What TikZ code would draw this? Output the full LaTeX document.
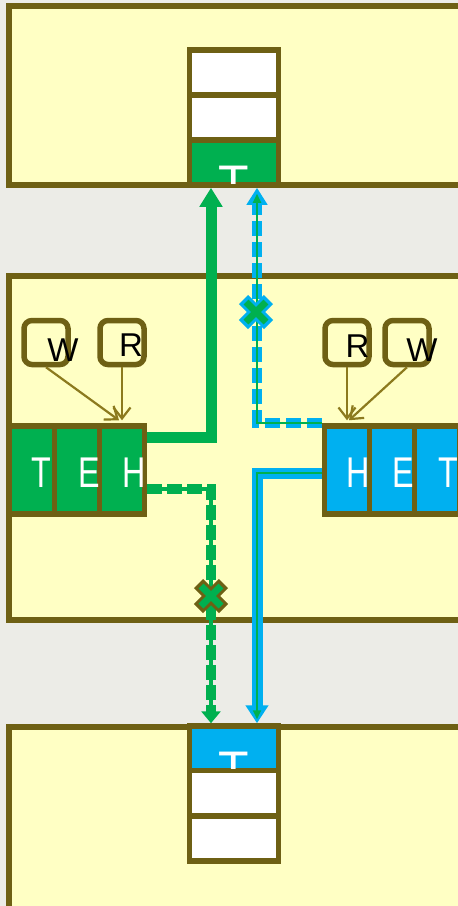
\documentclass[tikz,border=0pt]{standalone}
\usepackage{fontspec}
\setmainfont{Liberation Sans}
\usetikzlibrary{arrows.meta,calc}
\definecolor{olv}{HTML}{6E6014}
\definecolor{olva}{HTML}{8C7A1E}
\definecolor{pale}{HTML}{FFFFC4}
\definecolor{grn}{HTML}{00B050}
\definecolor{blu}{HTML}{00B0F0}
\definecolor{bgc}{HTML}{ECECE7}
\begin{document}
\begin{tikzpicture}[x=1pt,y=-1pt,
 panel/.style={draw=olv,fill=pale,line width=5.5pt},
 cellbox/.style={draw=olv,line width=5.5pt,minimum width=45pt,minimum height=88pt,inner sep=0pt},
 stackcell/.style={draw=olv,line width=5.5pt,minimum width=89pt,minimum height=45pt,inner sep=0pt},
 letter/.style={text=white,inner sep=0pt,font=\fontsize{43}{43}\selectfont},
 stackletter/.style={text=white,inner sep=0pt,anchor=north,font=\fontsize{50}{50}\selectfont},
 tagbox/.style={draw=olv,fill=pale,line width=5.5pt,rounded corners=8pt,minimum width=44pt,minimum height=44pt,inner sep=0pt},
 taglabel/.style={text=black,inner sep=0pt,font=\fontsize{33}{33}\selectfont},
 ptr/.style={draw=olva,line width=2.2pt,-{Straight Barb[length=11pt,width=17pt,line width=2.2pt]}},
 gsolid/.style={draw=grn,line width=11pt,-{Triangle[length=19pt,width=22pt]}},
 gthin/.style={draw=grn,line width=3.5pt},
 gdash/.style={draw=grn,line width=10pt,dash pattern=on 15pt off 5pt},
 bdash/.style={draw=blu,line width=10pt,dash pattern=on 15pt off 6pt},
 bsolid/.style={draw=blu,line width=11pt,-{Triangle[length=18pt,width=22pt]}},
 ithin/.style={draw=grn,line width=1.8pt},
]
\useasboundingbox[fill=bgc] (0,0) rectangle (458,906);
\clip (0,0) rectangle (458,906);

% panels
\path[panel] (9,6) rectangle (470,185);
\path[panel] (9,276) rectangle (470,620);
\path[panel] (9,727) rectangle (470,920);

% top stack
\node[stackcell,fill=white] (ts1) at (234,72.5) {};
\node[stackcell,fill=white] (ts2) at (234,117.5) {};
\node[stackcell,fill=grn] (ts3) at (234,162.5) {};
\begin{scope}
\clip (191.5,142.5) rectangle (276.5,183);
\node[stackletter] (tsT) at (234,166) {T};
\end{scope}

% bottom stack
\node[stackcell,fill=blu] (bs1) at (234,748.5) {};
\node[stackcell,fill=white] (bs2) at (234,793) {};
\node[stackcell,fill=white] (bs3) at (234,838.5) {};
\begin{scope}
\clip (191.5,728.5) rectangle (276.5,768);
\node[stackletter] (bsT) at (234,752) {T};
\end{scope}

% left cells
\node[cellbox,fill=grn] (lT) at (32,470) {};
\node[cellbox,fill=grn] (lE) at (77,470) {};
\node[cellbox,fill=grn] (lH) at (122,470) {};
\node[letter] (lTt) at (41,472.5) {\scalebox{0.75}[1]{T}};
\node[letter] (lEt) at (89,472.5) {\scalebox{0.75}[1]{E}};
\node[letter] (lHt) at (134,472.5) {\scalebox{0.75}[1]{H}};

% right cells
\node[cellbox,fill=blu] (rH) at (347,470) {};
\node[cellbox,fill=blu] (rE) at (392,470) {};
\node[cellbox,fill=blu] (rT) at (437,470) {};
\node[letter] (rHt) at (358,472.5) {\scalebox{0.75}[1]{H}};
\node[letter] (rEt) at (403,472.5) {\scalebox{0.75}[1]{E}};
\node[letter] (rTt) at (448,472.5) {\scalebox{0.75}[1]{T}};

% tags
\node[tagbox] (lW) at (46,342.5) {};
\node[tagbox] (lR) at (122,342.5) {};
\node[tagbox] (rR) at (347,342.5) {};
\node[tagbox] (rW) at (407,342.5) {};
\node[taglabel] (lWt) at (63,350) {W};
\node[taglabel] (lRt) at (131,345.5) {R};
\node[taglabel] (rRt) at (357.5,346) {R};
\node[taglabel] (rWt) at (422,350) {W};

\draw[ptr] (lW.south) -- ([xshift=-3pt,yshift=3pt]lH.north);
\draw[ptr] (lR.south) -- ([yshift=3pt]lH.north);
\draw[ptr] (rR.south) -- ([yshift=3pt]rH.north);
\draw[ptr] (rW.south) -- ([xshift=2pt,yshift=3pt]rH.north);

% connectors
\coordinate (gA) at ([yshift=33pt]lH.east);
\coordinate (gB) at ([yshift=-19pt]lH.east);
\coordinate (bA) at ([yshift=47pt]rH.west);
\coordinate (bB) at ([yshift=-3pt]rH.west);

% green solid up
\draw[gsolid] (gA) -| ([xshift=-23pt]ts3.south);
% green dashed down
\draw[gthin,-{Triangle[length=12pt,width=19pt]}] (gB) -| ([xshift=-23pt]bs1.north);
\draw[gdash] (gB) -| ([xshift=-23pt,yshift=10pt]bs1.north);
% blue dashed up
\draw[bdash,-{Triangle[length=17pt,width=20pt]}] (bA) -| ([xshift=23pt]ts3.south);
\draw[ithin,-{Triangle[length=9pt,width=8pt]}] (bA) -| ([xshift=23pt,yshift=-6pt]ts3.south);
% blue solid down
\draw[bsolid] (bB) -| ([xshift=23pt]bs1.north);
\draw[ithin,-{Triangle[length=9pt,width=8pt]}] (bB) -| ([xshift=23pt,yshift=4pt]bs1.north);

% cross marks
\coordinate (xg) at (211,596);
\coordinate (xb) at (256,312);
\draw[olv,line width=13pt] ($(xg)+(-12.5,-12.5)$) -- ($(xg)+(12.5,12.5)$) ($(xg)+(-12.5,12.5)$) -- ($(xg)+(12.5,-12.5)$);
\draw[grn,line width=7pt] ($(xg)+(-10,-10)$) -- ($(xg)+(10,10)$) ($(xg)+(-10,10)$) -- ($(xg)+(10,-10)$);
\draw[blu,line width=13pt] ($(xb)+(-12.5,-12.5)$) -- ($(xb)+(12.5,12.5)$) ($(xb)+(-12.5,12.5)$) -- ($(xb)+(12.5,-12.5)$);
\draw[grn,line width=7pt] ($(xb)+(-10,-10)$) -- ($(xb)+(10,10)$) ($(xb)+(-10,10)$) -- ($(xb)+(10,-10)$);
\end{tikzpicture}
\end{document}
